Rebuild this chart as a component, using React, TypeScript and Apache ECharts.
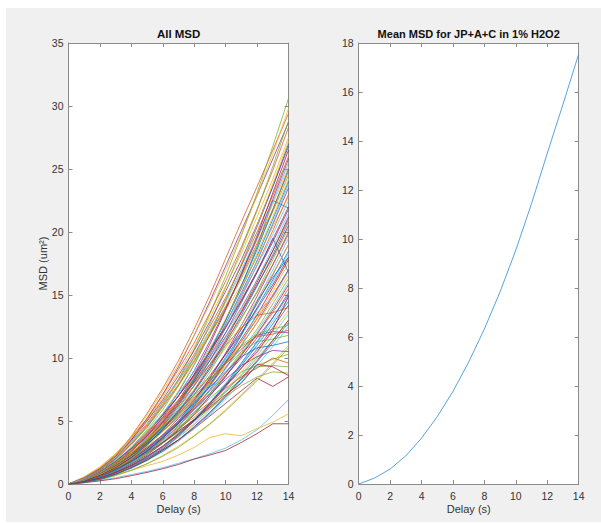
import React, { useEffect, useRef } from "react";
import * as echarts from "echarts";

// Delay (s) values at which MSD was sampled
const delays = [0, 1, 2, 3, 4, 5, 6, 7, 8, 9, 10, 11, 12, 13, 14];

// MSD of every track (um^2), one row per track
const trackMsd: number[][] = [
  [0,0.29,0.77,1.5,2.4,3.6,4.9,6.5,8.4,10.6,13.0,15.5,18.1,21.0,24.0],
  [0,0.35,1.05,2.2,3.8,5.6,7.6,9.8,12.3,15.0,17.9,20.8,23.6,26.5,29.4],
  [0,0.5,1.2,2.3,3.6,5.1,6.9,8.8,10.9,13.2,15.7,18.3,21.2,24.2,27.5],
  [0,0.3,0.95,2.0,3.5,5.2,7.1,9.3,11.8,14.5,17.3,20.1,22.9,25.8,28.7],
  [0,0.37,0.98,1.9,3.1,4.5,6.3,8.3,10.7,13.5,16.5,19.7,23.1,26.8,30.6],
  [0,0.12,0.3,0.5,0.75,1.0,1.3,1.65,2.0,2.4,2.85,3.5,4.3,5.45,6.7],
  [0,0.1,0.25,0.42,0.66,0.92,1.21,1.55,1.98,2.3,2.66,3.3,4.0,4.78,4.78],
  [0,0.22,0.59,1.15,1.85,2.7,3.8,5.0,6.5,8.1,10.0,11.9,14.0,16.2,18.5],
  [0,0.38,0.95,1.7,2.7,3.9,5.3,6.7,8.3,10.1,12.0,14.0,16.2,18.5,21.0],
  [0,0.15,0.42,0.75,1.1,1.45,1.8,2.3,2.9,3.7,3.99,3.83,4.4,4.9,5.57],
  [0,0.3,0.84,1.56,2.4,3.4,4.4,5.6,6.8,8.2,9.5,10.7,11.8,12.1,12.0],
  [0,0.23,0.59,1.07,1.7,2.4,3.25,4.2,5.1,6.2,7.4,8.6,10.0,11.4,13.0],
  [0,0.19,0.51,0.99,1.6,2.4,3.3,4.35,5.6,7.0,8.6,10.3,12.1,14.0,16.0],
  [0,0.2,0.5,0.9,1.4,2.0,2.7,3.5,4.4,5.4,6.4,7.4,8.4,7.74,8.5],
  [0,0.3,0.8,1.5,2.4,3.6,5.0,6.6,8.5,10.6,13.0,15.7,18.8,22.5,21.9],
  [0,0.47,1.17,2.1,3.4,4.8,6.5,8.3,10.3,12.5,14.8,17.3,20.0,22.9,26.0],
  [0,0.45,1.13,2.07,3.3,4.7,6.3,8.1,10.0,12.1,14.4,16.8,19.4,22.2,25.2],
  [0,0.28,0.75,1.46,2.35,3.5,4.8,6.4,8.2,10.3,12.7,15.2,17.7,20.6,23.5],
  [0,0.25,0.7,1.3,2.0,2.8,3.7,4.7,5.7,6.8,7.9,8.9,9.4,9.9,10.3],
  [0,0.16,0.47,0.98,1.66,2.5,3.6,4.9,6.4,8.2,10.1,12.3,14.5,17.0,19.5],
  [0,0.37,0.92,1.68,2.7,3.8,5.1,6.6,8.1,9.8,11.7,13.6,15.8,18.0,20.5],
  [0,0.17,0.46,0.9,1.45,2.15,3.0,3.9,5.1,6.4,7.8,9.4,11.0,12.7,14.5],
  [0,0.51,1.27,2.3,3.7,5.2,7.1,9.1,11.2,13.6,16.1,18.8,21.8,24.9,28.3],
  [0,0.21,0.56,1.09,1.75,2.6,3.6,4.8,6.1,7.7,9.5,11.3,13.2,15.3,17.5],
  [0,0.27,0.68,1.23,1.95,2.8,3.75,4.8,5.9,7.2,8.6,10.0,11.6,13.2,15.0],
  [0,0.23,0.65,1.2,1.86,2.6,3.4,4.4,5.3,6.3,7.3,8.3,9.3,9.4,9.3],
  [0,0.15,0.4,0.78,1.25,1.85,2.56,3.4,4.4,5.5,6.75,8.1,9.4,10.9,12.5],
  [0,0.21,0.64,1.33,2.25,3.45,4.9,6.6,8.7,11.1,13.8,16.7,19.7,23.1,26.5],
  [0,0.27,0.71,1.38,2.2,3.3,4.6,6.1,7.8,9.8,12.0,14.4,16.8,19.5,16.8],
  [0,0.31,0.77,1.39,2.2,3.15,4.25,5.4,6.7,8.2,9.7,11.3,13.1,15.0,17.0],
  [0,0.57,1.37,2.4,3.65,5.0,6.6,8.2,10.0,11.9,13.8,15.8,18.0,20.4,22.8],
  [0,0.23,0.61,1.18,1.9,2.8,3.9,5.2,6.65,8.4,10.3,12.3,14.3,16.6,19.0],
  [0,0.44,1.1,2.0,3.2,4.5,6.1,7.8,9.7,11.8,14.0,16.3,18.9,21.6,24.5],
  [0,0.16,0.43,0.84,1.35,2.0,2.77,3.7,4.7,5.9,7.3,8.7,10.2,11.8,13.5],
  [0,0.32,0.81,1.48,2.34,3.3,4.5,5.8,7.1,8.6,10.3,12.0,13.9,15.8,18.0],
  [0,0.32,0.86,1.67,2.7,4.0,5.5,7.3,9.45,11.9,14.6,17.4,20.4,23.6,27.0],
  [0,0.35,0.98,1.8,2.8,3.9,5.2,6.6,8.0,9.5,11.0,12.4,13.4,13.6,14.0],
  [0,0.13,0.35,0.68,1.1,1.63,2.26,3.0,3.85,4.8,5.9,7.1,8.3,9.6,11.0],
  [0,0.16,0.48,1.0,1.7,2.6,3.7,5.0,6.6,8.4,10.4,12.6,14.9,17.4,20.0],
  [0,0.3,0.83,1.5,2.36,3.3,4.4,5.5,6.7,8.0,9.3,10.5,11.3,11.5,11.8],
  [0,0.26,0.69,1.33,2.15,3.2,4.4,5.85,7.5,9.5,11.6,13.9,16.2,18.8,21.5],
  [0,0.19,0.51,0.98,1.58,2.3,3.24,4.3,5.5,7.0,8.5,10.2,11.9,13.8,15.8],
  [0,0.2,0.6,1.25,2.1,3.25,4.6,6.25,8.25,10.5,13.0,15.75,18.6,21.75,25.0],
  [0,0.24,0.67,1.25,1.9,2.7,3.55,4.5,5.5,6.5,7.6,8.5,9.2,10.0,9.6],
  [0,0.34,0.86,1.56,2.5,3.5,4.75,6.1,7.5,9.1,10.8,12.6,14.6,16.7,19.0],
  [0,0.2,0.54,1.05,1.7,2.5,3.5,4.6,5.95,7.5,9.2,11.0,12.8,14.9,17.0],
  [0,0.35,0.92,1.8,2.9,4.3,5.9,7.8,10.1,12.7,15.6,18.6,21.7,25.2,28.8],
  [0,0.18,0.47,0.92,1.48,2.2,3.0,4.0,5.2,6.5,8.0,9.5,11.2,12.95,14.8],
  [0,0.4,0.99,1.8,2.86,4.1,5.5,7.0,8.7,10.6,12.5,14.6,16.9,19.4,22.0],
  [0,0.15,0.41,0.79,1.28,1.9,2.6,3.5,4.5,5.6,6.9,8.3,9.7,11.2,12.8],
  [0,0.28,0.74,1.43,2.3,3.4,4.7,6.3,8.05,10.1,12.4,14.8,17.4,20.1,23.0],
  [0,0.54,1.3,2.4,3.75,5.45,7.4,9.5,11.8,14.3,17.0,19.8,22.9,26.2,29.8],
  [0,0.26,0.74,1.37,2.1,2.9,3.9,4.9,6.0,7.1,8.3,9.4,10.1,10.6,10.5],
  [0,0.2,0.52,1.0,1.63,2.4,3.3,4.4,5.7,7.2,8.8,10.5,12.3,14.3,16.3],
  [0,0.22,0.59,1.13,1.83,2.7,3.75,5.0,6.4,8.05,9.9,11.8,13.8,16.0,18.3],
  [0,0.16,0.42,0.81,1.3,1.9,2.7,3.5,4.55,5.7,7.0,8.4,9.8,11.4,13.0],
  [0,0.25,0.67,1.29,2.1,3.1,4.3,5.7,7.3,9.15,11.2,13.4,15.7,18.2,20.8],
  [0,0.28,0.7,1.27,2.0,2.9,3.9,5.0,6.1,7.4,8.8,10.3,11.9,13.6,15.5],
  [0,0.29,0.77,1.5,2.4,3.6,5.0,6.6,8.5,10.65,13.1,15.6,18.3,21.2,24.2],
  [0,0.48,1.2,2.2,3.5,5.0,6.7,8.6,10.6,12.9,15.3,17.8,20.6,23.6,26.8],
  [0,0.13,0.35,0.67,1.08,1.6,2.2,2.9,3.8,4.75,5.8,7.0,8.2,9.45,10.8],
  [0,0.19,0.57,1.19,2.0,3.1,4.4,5.95,7.85,10.0,12.4,15.0,17.7,20.7,23.8],
  [0,0.21,0.57,1.1,1.78,2.6,3.65,4.8,6.2,7.8,9.6,11.5,13.4,15.6,17.8],
  [0,0.28,0.79,1.47,2.26,3.2,4.2,5.3,6.4,7.7,8.9,10.1,10.8,11.0,11.3],
  [0,0.36,0.89,1.6,2.6,3.7,4.95,6.3,7.8,9.5,11.3,13.2,15.2,17.4,19.8],
  [0,0.17,0.44,0.86,1.38,2.0,2.8,3.75,4.8,6.1,7.45,8.9,10.4,12.1,13.8],
  [0,0.39,0.98,1.8,2.8,4.0,5.45,7.0,8.6,10.5,12.4,14.5,16.8,19.2,21.8],
  [0,0.22,0.62,1.14,1.76,2.46,3.26,4.1,5.0,6.0,6.95,7.8,8.5,8.9,8.8],
  [0,0.46,1.15,2.1,3.3,4.7,6.4,8.2,10.1,12.2,14.5,17.0,19.6,22.4,25.5],
  [0,0.23,0.63,1.17,1.8,2.5,3.3,4.2,5.1,6.1,7.1,8.0,9.5,9.3,8.6],
  [0,0.12,0.36,0.76,1.3,2.0,2.8,3.8,5.0,6.4,7.9,9.6,11.3,13.2,15.2],
  [0,0.45,1.12,2.0,3.2,4.6,6.2,7.9,9.8,11.9,14.1,16.5,19.1,21.8,24.8],
  [0,0.3,0.75,1.36,2.16,3.1,4.15,5.3,6.6,8.0,9.5,11.0,12.8,14.6,16.6],
  [0,0.17,0.45,0.88,1.42,2.1,2.9,3.9,5.0,6.25,7.7,9.2,10.7,12.4,14.2],
  [0,0.24,0.65,1.26,2.0,3.0,4.2,5.5,7.1,8.9,11.0,13.1,15.3,17.8,20.3],
  [0,0.2,0.55,1.05,1.7,2.5,3.5,4.6,5.9,7.4,9.1,11.0,13.6,14.8,16.9],
  [0,0.25,0.68,1.3,2.1,3.1,4.35,5.8,7.4,9.3,11.4,13.7,16.0,18.5,21.2],
  [0,0.22,0.58,1.1,1.8,2.65,3.7,4.9,6.3,7.9,9.7,11.8,14.5,16.4,18.0],
  [0,0.3,0.85,1.6,2.44,3.4,4.5,5.7,6.95,8.3,9.6,10.9,11.7,11.9,12.2],
  [0,0.33,0.87,1.7,2.7,4.0,5.6,7.4,9.5,12.0,14.7,17.5,20.5,23.8,27.2],
  [0,0.31,0.83,1.6,2.6,3.8,5.3,7.0,9.0,11.35,13.9,16.6,19.5,22.6,25.8],
  [0,0.3,0.85,1.6,2.5,3.5,4.6,5.9,7.1,8.5,9.8,11.0,11.9,12.3,12.6],
  [0,0.41,1.0,1.85,2.9,4.2,5.6,7.2,8.9,10.8,12.8,15.0,17.3,19.8,22.5],
  [0,0.18,0.48,0.93,1.5,2.2,3.0,4.0,5.1,6.4,7.8,9.2,10.5,12.2,14.9],
];

// Mean MSD (um^2) for JP+A+C in 1% H2O2
const meanMsd = [0, 0.24, 0.61, 1.15, 1.87, 2.75, 3.78, 4.98, 6.33, 7.85, 9.55, 11.45, 13.5, 15.5, 17.55];

// MATLAB default colour order
const colorOrder = ["#0072BD", "#D95319", "#EDB120", "#7E2F8E", "#77AC30", "#4DBEEE", "#A2142F"];

const leftTitle = "All MSD";
const rightTitle = "Mean MSD for JP+A+C in 1% H2O2";
const xName = "Delay (s)";
const leftYName = "MSD (um\u00B2)";

const FONT = "'Liberation Sans', Arial, Helvetica, sans-serif";
const AXIS_COLOR = "#8a8a8a";
const LABEL_COLOR = "#333333";

function boxAxes(gridIndex: number, max: number, interval: number, axis: "x" | "y") {
  const common = {
    gridIndex,
    type: "value" as const,
    min: 0,
    max,
    interval,
    splitLine: { show: false },
    axisLine: { show: true, onZero: false, lineStyle: { color: AXIS_COLOR, width: 1 } },
    axisTick: { show: true, inside: true, length: 4, lineStyle: { color: AXIS_COLOR, width: 1 } },
  };
  if (axis === "x") {
    return [
      {
        ...common,
        position: "bottom",
        axisLabel: { show: true, color: LABEL_COLOR, fontSize: 10.5, fontFamily: FONT, margin: 6 },
      },
      { ...common, position: "top", axisLabel: { show: false } },
    ];
  }
  return [
    {
      ...common,
      position: "left",
      axisLabel: { show: true, color: LABEL_COLOR, fontSize: 10.5, fontFamily: FONT, margin: 5 },
    },
    { ...common, position: "right", axisLabel: { show: false } },
  ];
}

export default function App() {
  const ref = useRef<HTMLDivElement>(null);

  useEffect(() => {
    if (!ref.current) return;
    const chart = echarts.init(ref.current, undefined, { renderer: "svg" });

    const trackSeries = trackMsd.map((row, i) => ({
      type: "line",
      xAxisIndex: 0,
      yAxisIndex: 0,
      showSymbol: false,
      silent: true,
      data: row.map((v, k) => [delays[k], v]),
      lineStyle: { color: colorOrder[i % colorOrder.length], width: 1, opacity: 0.75 },
    }));

    const meanSeries = {
      type: "line",
      xAxisIndex: 2,
      yAxisIndex: 2,
      showSymbol: false,
      silent: true,
      data: meanMsd.map((v, k) => [delays[k], v]),
      lineStyle: { color: "#3b93d6", width: 1, opacity: 0.85 },
    };

    chart.setOption({
      animation: false,
      backgroundColor: "#f0f0f0",
      grid: [
        { left: 62.5, top: 35, width: 220, height: 441, show: true, backgroundColor: "#ffffff", borderWidth: 0 },
        { left: 352.7, top: 35, width: 220, height: 441, show: true, backgroundColor: "#ffffff", borderWidth: 0 },
      ],
      xAxis: [...boxAxes(0, 14, 2, "x"), ...boxAxes(1, 14, 2, "x")],
      yAxis: [...boxAxes(0, 35, 5, "y"), ...boxAxes(1, 18, 2, "y")],
      series: [...trackSeries, meanSeries],
      graphic: [
        {
          type: "text",
          x: 172.6,
          y: 26,
          style: { text: leftTitle, font: `bold 11.5px ${FONT}`, fill: "#111", textAlign: "center", textVerticalAlign: "middle" },
        },
        {
          type: "text",
          x: 462.7,
          y: 26,
          style: { text: rightTitle, font: `bold 11px ${FONT}`, fill: "#111", textAlign: "center", textVerticalAlign: "middle" },
        },
        {
          type: "text",
          x: 172.6,
          y: 501,
          style: { text: xName, font: `11px ${FONT}`, fill: LABEL_COLOR, textAlign: "center", textVerticalAlign: "middle" },
        },
        {
          type: "text",
          x: 462.7,
          y: 501,
          style: { text: xName, font: `11px ${FONT}`, fill: LABEL_COLOR, textAlign: "center", textVerticalAlign: "middle" },
        },
        {
          type: "text",
          x: 37,
          y: 255.5,
          rotation: Math.PI / 2,
          style: { text: leftYName, font: `11px ${FONT}`, fill: LABEL_COLOR, textAlign: "center", textVerticalAlign: "middle" },
        },
      ],
    });

    return () => chart.dispose();
  }, []);

  return (
    <div style={{ position: "fixed", left: 0, top: 0, width: 601, height: 523, background: "#ffffff" }}>
      <div ref={ref} style={{ position: "absolute", left: 6, top: 8, width: 595, height: 514 }} />
    </div>
  );
}
